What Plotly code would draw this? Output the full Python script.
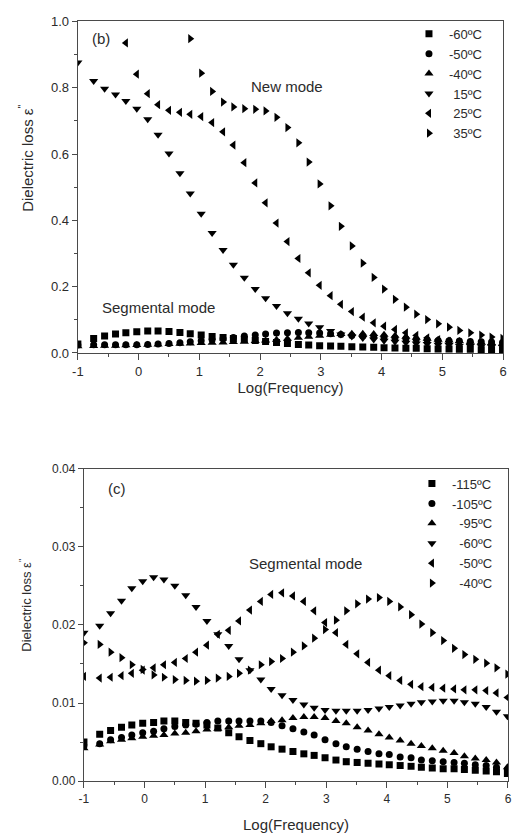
import plotly.graph_objects as go

# ---- data -------------------------------------------------------------
LOG_F = [-1.00, -0.74, -0.56, -0.38, -0.21, -0.03, 0.15, 0.32, 0.50, 0.68,
         0.85, 1.03, 1.21, 1.39, 1.56, 1.74, 1.92, 2.09, 2.27, 2.45,
         2.63, 2.80, 2.98, 3.16, 3.33, 3.51, 3.69, 3.87, 4.04, 4.22,
         4.40, 4.57, 4.75, 4.93, 5.11, 5.28, 5.46, 5.64, 5.81, 5.99]

X_TICKS = [-1, 0, 1, 2, 3, 4, 5, 6]
X_TICK_TEXT = ["-1", "0", "1", "2", "3", "4", "5", "6"]

# panel (b)
b_labels = ["-60ºC", "-50ºC", "-40ºC", "\u200415ºC", "\u200425ºC", "\u200435ºC"]
b_m60 = [0.027, 0.044, 0.051, 0.057, 0.061, 0.064, 0.066, 0.066, 0.065, 0.062,
         0.058, 0.054, 0.050, 0.047, 0.044, 0.041, 0.038, 0.035, 0.032, 0.029,
         0.026, 0.024, 0.022, 0.021, 0.020, 0.019, 0.018, 0.017, 0.016, 0.015,
         0.014, 0.014, 0.013, 0.012, 0.012, 0.011, 0.011, 0.010, 0.010, 0.009]
b_m50 = [0.024, 0.025, 0.025, 0.025, 0.025, 0.025, 0.026, 0.027, 0.029, 0.031,
         0.034, 0.037, 0.040, 0.043, 0.047, 0.051, 0.054, 0.057, 0.060, 0.061,
         0.062, 0.061, 0.060, 0.058, 0.056, 0.053, 0.051, 0.049, 0.047, 0.045,
         0.043, 0.041, 0.040, 0.038, 0.037, 0.036, 0.035, 0.034, 0.033, 0.032]
b_m40 = [0.020, 0.021, 0.022, 0.022, 0.023, 0.024, 0.025, 0.026, 0.027, 0.028,
         0.029, 0.030, 0.031, 0.032, 0.033, 0.034, 0.036, 0.038, 0.040, 0.043,
         0.046, 0.049, 0.052, 0.055, 0.057, 0.058, 0.058, 0.057, 0.055, 0.052,
         0.049, 0.046, 0.043, 0.040, 0.038, 0.036, 0.034, 0.032, 0.030, 0.029]
b_p15 = [0.876, 0.820, 0.797, 0.780, 0.760, 0.737, 0.705, 0.658, 0.602, 0.542,
         0.481, 0.420, 0.362, 0.311, 0.266, 0.227, 0.193, 0.165, 0.142, 0.120,
         0.103, 0.089, 0.078, 0.066, 0.056, 0.050, 0.045, 0.041, 0.037, 0.034,
         0.031, 0.029, 0.027, 0.025, 0.024, 0.022, 0.021, 0.020, 0.019, 0.018]
b_p25 = [0.935, 0.841, 0.782, 0.749, 0.732, 0.726, 0.720, 0.713, 0.695, 0.667,
         0.627, 0.574, 0.513, 0.453, 0.392, 0.336, 0.285, 0.242, 0.204, 0.173,
         0.147, 0.125, 0.108, 0.091, 0.081, 0.071, 0.061, 0.053, 0.046, 0.040,
         0.035, 0.032, 0.029, 0.027, 0.025, 0.023]          # starts at LOG_F[4]
b_p35 = [0.948, 0.844, 0.789, 0.757, 0.742, 0.737, 0.735, 0.730, 0.711, 0.680,
         0.634, 0.576, 0.510, 0.444, 0.382, 0.323, 0.271, 0.228, 0.193, 0.162,
         0.138, 0.117, 0.101, 0.088, 0.078, 0.068, 0.061, 0.054, 0.048, 0.044]  # starts at LOG_F[10]

# panel (c)
c_labels = ["-115ºC", "-105ºC", "\u2007-95ºC", "\u2007-60ºC", "\u2007-50ºC", "\u2007-40ºC"]
c_m115 = [0.0050, 0.0060, 0.0065, 0.0069, 0.0072, 0.0074, 0.0075, 0.0077, 0.0077, 0.0075,
          0.0074, 0.0072, 0.0068, 0.0062, 0.0057, 0.0052, 0.0048, 0.0044, 0.0041, 0.0038,
          0.0035, 0.0033, 0.0030, 0.0027, 0.0025, 0.0024, 0.0023, 0.0022, 0.0021, 0.0020,
          0.0019, 0.0018, 0.0017, 0.0016, 0.0016, 0.0015, 0.0014, 0.0013, 0.0012, 0.0010]
c_m105 = [0.0045, 0.0048, 0.0053, 0.0056, 0.0059, 0.0062, 0.0064, 0.0067, 0.0070, 0.0072,
          0.0073, 0.0075, 0.0077, 0.0077, 0.0077, 0.0077, 0.0077, 0.0075, 0.0071, 0.0067,
          0.0063, 0.0059, 0.0053, 0.0048, 0.0044, 0.0041, 0.0038, 0.0035, 0.0034, 0.0031,
          0.0030, 0.0027, 0.0026, 0.0025, 0.0024, 0.0023, 0.0021, 0.0020, 0.0018, 0.0015]
c_m95 = [0.0042, 0.0047, 0.0051, 0.0053, 0.0055, 0.0057, 0.0058, 0.0059, 0.0061, 0.0062,
         0.0064, 0.0066, 0.0067, 0.0069, 0.0071, 0.0072, 0.0074, 0.0077, 0.0078, 0.0081,
         0.0082, 0.0082, 0.0081, 0.0077, 0.0074, 0.0069, 0.0065, 0.0060, 0.0056, 0.0052,
         0.0048, 0.0045, 0.0042, 0.0039, 0.0036, 0.0032, 0.0029, 0.0027, 0.0024, 0.0018]
c_m60 = [0.0190, 0.0199, 0.0215, 0.0231, 0.0247, 0.0256, 0.0261, 0.0258, 0.0250, 0.0238,
         0.0223, 0.0205, 0.0188, 0.0173, 0.0156, 0.0142, 0.0130, 0.0118, 0.0110, 0.0104,
         0.0098, 0.0094, 0.0091, 0.0090, 0.0090, 0.0090, 0.0091, 0.0093, 0.0095, 0.0097,
         0.0099, 0.0101, 0.0102, 0.0103, 0.0103, 0.0101, 0.0099, 0.0095, 0.0089, 0.0083]
c_m50 = [0.0134, 0.0132, 0.0133, 0.0135, 0.0138, 0.0142, 0.0145, 0.0149, 0.0152, 0.0157,
         0.0165, 0.0174, 0.0188, 0.0193, 0.0205, 0.0219, 0.0230, 0.0239, 0.0241, 0.0237,
         0.0230, 0.0218, 0.0203, 0.0190, 0.0175, 0.0163, 0.0152, 0.0142, 0.0135, 0.0129,
         0.0124, 0.0121, 0.0120, 0.0119, 0.0118, 0.0117, 0.0117, 0.0116, 0.0113, 0.0107]
c_m40 = [0.0177, 0.0175, 0.0165, 0.0158, 0.0149, 0.0143, 0.0136, 0.0133, 0.0130, 0.0129,
         0.0128, 0.0129, 0.0132, 0.0134, 0.0138, 0.0142, 0.0149, 0.0153, 0.0157, 0.0165,
         0.0173, 0.0183, 0.0194, 0.0206, 0.0218, 0.0227, 0.0233, 0.0235, 0.0230, 0.0223,
         0.0213, 0.0201, 0.0190, 0.0180, 0.0170, 0.0162, 0.0156, 0.0151, 0.0145, 0.0137]

SYMBOLS = ["square", "circle", "triangle-up", "triangle-down", "triangle-left", "triangle-right"]
SIZES = [7, 7, 8, 8, 8, 8]

FONT = "Arial, 'Liberation Sans', sans-serif"
TXT = "#2b2b2b"
AX = "#4a4a4a"
Y_TITLE = 'Dielectric loss ε<sup>"</sup>'

fig = go.Figure()

b_series = [(LOG_F, b_m60), (LOG_F, b_m50), (LOG_F, b_m40), (LOG_F, b_p15),
            (LOG_F[4:], b_p25), (LOG_F[10:], b_p35)]
for (xs, ys), lab, sym, sz in zip(b_series, b_labels, SYMBOLS, SIZES):
    fig.add_trace(go.Scatter(x=xs, y=ys, mode="markers", name=lab,
                             marker=dict(symbol=sym, size=sz, color="black", line=dict(width=0)),
                             xaxis="x", yaxis="y", legend="legend"))

c_series = [c_m115, c_m105, c_m95, c_m60, c_m50, c_m40]
for ys, lab, sym, sz in zip(c_series, c_labels, SYMBOLS, SIZES):
    fig.add_trace(go.Scatter(x=LOG_F, y=ys, mode="markers", name=lab,
                             marker=dict(symbol=sym, size=sz, color="black", line=dict(width=0)),
                             xaxis="x2", yaxis="y2", legend="legend2"))

W, H = 512, 838

def xdom(l, r):
    return [l / W, min(r / W, 1.0)]

def ydom(top, bottom):
    return [1 - bottom / H, 1 - top / H]

def xaxis_cfg(tick_size, standoff):
    return dict(range=[-1, 6], tickvals=X_TICKS, ticktext=X_TICK_TEXT, ticks="outside", ticklen=6,
                tickwidth=1, tickcolor=AX, showline=True, linecolor=AX, linewidth=1.3, mirror=True,
                showgrid=False, zeroline=False, tickfont=dict(size=tick_size, color=TXT, family=FONT),
                minor=dict(ticks="outside", ticklen=3, dtick=0.5, tickcolor=AX, showgrid=False),
                title=dict(text="Log(Frequency)", font=dict(size=15, color=TXT, family=FONT),
                           standoff=standoff))

def yaxis_cfg(tick_size):
    return dict(ticks="outside", ticklen=5, tickwidth=1, tickcolor=AX, showline=True,
                linecolor=AX, linewidth=1.3, mirror=True, showgrid=False, zeroline=False,
                tickfont=dict(size=tick_size, color=TXT, family=FONT))

fig.update_layout(
    width=W, height=H, margin=dict(l=0, r=0, t=0, b=0),
    paper_bgcolor="white", plot_bgcolor="white",
    font=dict(family=FONT, color=TXT),
    xaxis=dict(xaxis_cfg(13, 3), domain=xdom(73.3, 507), anchor="y"),
    yaxis=dict(yaxis_cfg(13), domain=ydom(14.7, 352.3), anchor="x", range=[0, 1.0], dtick=0.2,
               tickformat=".1f", minor=dict(ticks="outside", ticklen=3, dtick=0.1, tickcolor=AX, showgrid=False)),
    xaxis2=dict(xaxis_cfg(12, 14), domain=xdom(79.5, 512.5), anchor="y2"),
    yaxis2=dict(yaxis_cfg(12), domain=ydom(470, 788.3), anchor="x2", range=[0, 0.04], dtick=0.01,
                tickformat=".2f", minor=dict(ticks="outside", ticklen=3, dtick=0.005, tickcolor=AX, showgrid=False)),
    legend=dict(x=411 / W, y=1 - 12 / H, xanchor="left", yanchor="top", bgcolor="rgba(0,0,0,0)",
                font=dict(size=13, color=TXT, family=FONT), itemwidth=30, tracegroupgap=0),
    legend2=dict(x=414 / W, y=1 - 470 / H, xanchor="left", yanchor="top", bgcolor="rgba(0,0,0,0)",
                 font=dict(size=13, color=TXT, family=FONT), itemwidth=30, tracegroupgap=0),
    showlegend=True,
)

ann_font = dict(size=15, color=TXT, family=FONT)
fig.add_annotation(x=-0.62, y=0.949, xref="x", yref="y", text="(b)", showarrow=False, font=ann_font)
fig.add_annotation(x=2.45, y=0.805, xref="x", yref="y", text="New mode", showarrow=False, font=ann_font)
fig.add_annotation(x=0.33, y=0.137, xref="x", yref="y", text="Segmental mode", showarrow=False, font=ann_font)
fig.add_annotation(x=-0.46, y=0.0375, xref="x2", yref="y2", text="(c)", showarrow=False, font=ann_font)
fig.add_annotation(x=2.66, y=0.02785, xref="x2", yref="y2", text="Segmental mode", showarrow=False, font=ann_font)

# y-axis titles (placed like the original, slightly above the axis centre)
fig.add_annotation(x=20 / W, y=1 - 154 / H, xref="paper", yref="paper", xanchor="center", yanchor="middle",
                   text=Y_TITLE, textangle=-90, showarrow=False, font=dict(size=15, color=TXT, family=FONT))
fig.add_annotation(x=20 / W, y=1 - 609 / H, xref="paper", yref="paper", xanchor="center", yanchor="middle",
                   text=Y_TITLE, textangle=-90, showarrow=False, font=dict(size=13, color=TXT, family=FONT))

fig.write_html("out.html")
